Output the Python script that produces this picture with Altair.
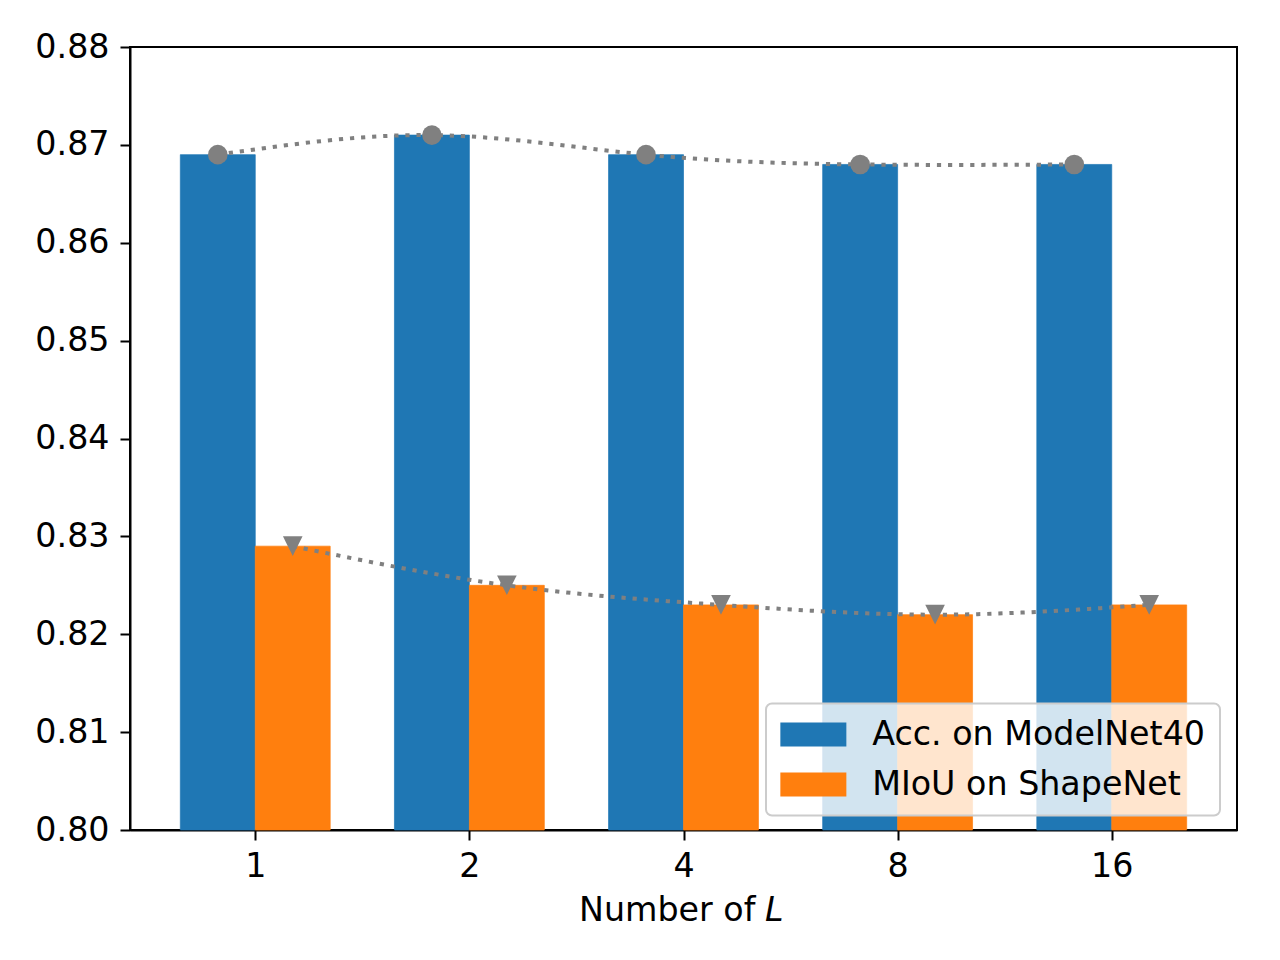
import json
import altair as alt
import pandas as pd

# ---- data ----
categories = ["1", "2", "4", "8", "16"]
acc_modelnet40 = [0.869, 0.871, 0.869, 0.868, 0.868]
miou_shapenet = [0.829, 0.825, 0.823, 0.822, 0.823]
series_names = ["Acc. on ModelNet40", "MIoU on ShapeNet"]
series_colors = ["#1f77b4", "#ff7f0e"]
marker_shapes = ["circle", "M-1,-1L1,-1L0,1Z"]
y_ticks = [0.80, 0.81, 0.82, 0.83, 0.84, 0.85, 0.86, 0.87, 0.88]

rows = []
for i, c in enumerate(categories):
    rows.append({"idx": i, "cat": c, "series": series_names[0], "value": acc_modelnet40[i], "order": 0})
    rows.append({"idx": i, "cat": c, "series": series_names[1], "value": miou_shapenet[i], "order": 1})
df = pd.DataFrame(rows)

BAR_W = 0.35
FONT = "DejaVu Sans"
FS = 33.3
GREY = "#808080"

label_expr = json.dumps(categories) + "[datum.value]"


def xenc(field):
    return alt.X(
        f"{field}:Q",
        scale=alt.Scale(domain=[-0.585, 4.585], nice=False, zero=False),
        axis=alt.Axis(values=list(range(len(categories))), labelExpr=label_expr,
                      title=None, grid=False, labelPadding=10),
    )


yenc = alt.Y(
    "value:Q",
    scale=alt.Scale(domain=[0.80, 0.88], nice=False, zero=False),
    axis=alt.Axis(values=y_ticks, format=".2f", title=None, grid=False, labelPadding=11),
)

base = alt.Chart(df).transform_calculate(
    x0=f"datum.idx + (datum.order - 1) * {BAR_W}",
    x1=f"datum.idx + datum.order * {BAR_W}",
    xc=f"datum.idx + (datum.order - 0.5) * {BAR_W}",
    base="0.8",
)

color_scale = alt.Scale(domain=series_names, range=series_colors)

bars = base.mark_bar(opacity=1, strokeWidth=0.7).encode(
    x=xenc("x0"),
    x2="x1:Q",
    y=yenc,
    y2="base:Q",
    stroke=alt.Stroke("series:N", scale=color_scale, legend=None),
    color=alt.Color(
        "series:N",
        title=None,
        sort=series_names,
        scale=color_scale,
        legend=alt.Legend(
            orient="none", legendX=636, legendY=656.5,
            symbolType="M-1,-0.72L2.964,-0.72L2.964,0.72L-1,0.72Z",
            symbolSize=1109, symbolStrokeWidth=0, symbolOpacity=1,
            labelFontSize=FS, labelFont=FONT, labelColor="black",
            labelOffset=58.2, labelLimit=0,
            padding=14, rowPadding=16,
            fillColor="rgba(255,255,255,0.8)", strokeColor="#cccccc",
            cornerRadius=6,
        ),
    ),
)

lines = base.mark_line(
    interpolate="natural", color=GREY, strokeWidth=4, strokeDash=[4.2, 6.9]
).encode(x=xenc("xc"), y=yenc, detail="series:N")

point_layers = []
for k, name in enumerate(series_names):
    point_layers.append(
        base.transform_filter(alt.datum.series == name)
        .mark_point(filled=True, opacity=1, color=GREY, size=385, shape=marker_shapes[k])
        .encode(x=xenc("xc"), y=yenc)
    )

t1 = alt.Chart(pd.DataFrame({"t": ["Number of"]})).mark_text(
    align="left", baseline="alphabetic", font=FONT, fontSize=FS, color="black"
).encode(text="t:N", x=alt.value(449), y=alt.value(873.5))

t2 = alt.Chart(pd.DataFrame({"t": ["L"]})).mark_text(
    align="left", baseline="alphabetic", font=FONT, fontSize=FS, fontStyle="italic", color="black"
).encode(text="t:N", x=alt.value(635), y=alt.value(873.5))

chart = alt.layer(bars, lines, *point_layers, t1, t2).properties(
    width=1107,
    height=783,
    autosize=alt.AutoSizeParams(type="none"),
    padding={"left": 122, "top": 39, "right": 35, "bottom": 122},
).configure(
    background="white"
).configure_view(
    stroke="black", strokeWidth=2
).configure_axis(
    domainColor="black", domainWidth=2, tickColor="black", tickWidth=2, tickSize=10,
    labelFont=FONT, labelFontSize=FS, labelColor="black",
).configure_legend(
    strokeWidth=2
)

chart.save("out.html", embed_options={"renderer": "svg", "actions": False})
